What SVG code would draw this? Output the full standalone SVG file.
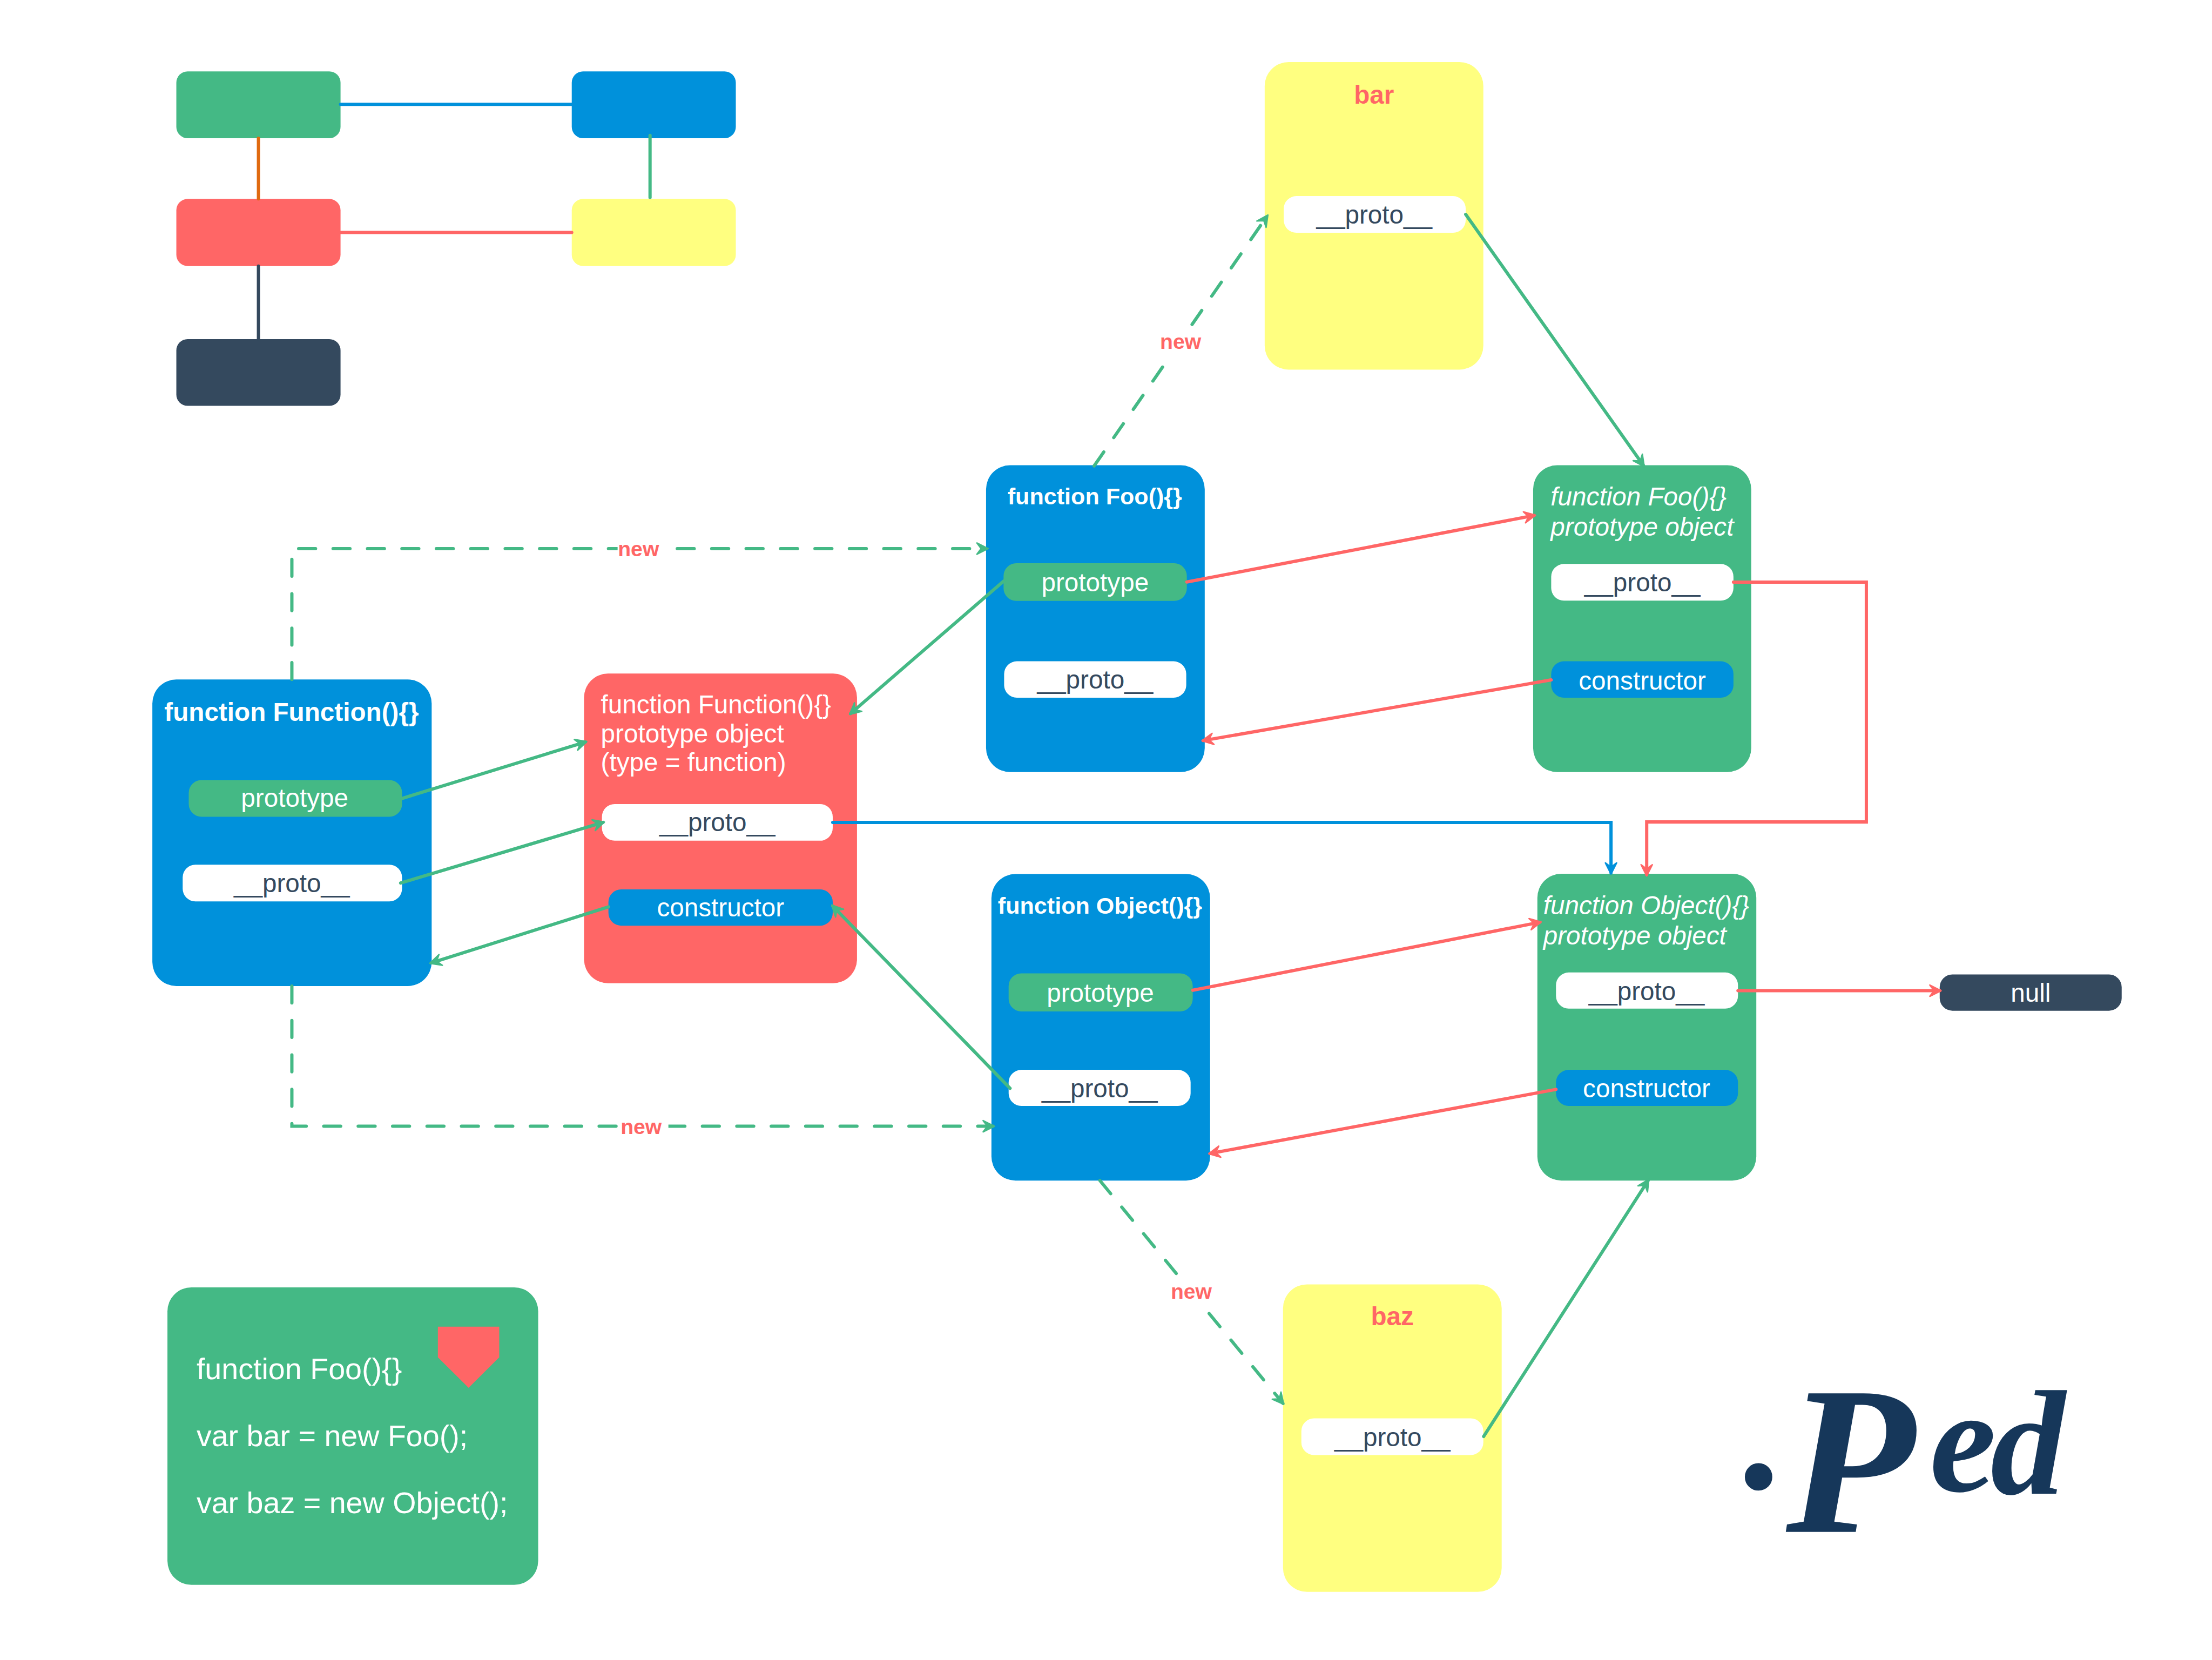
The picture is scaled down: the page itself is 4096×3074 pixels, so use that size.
<svg xmlns="http://www.w3.org/2000/svg" width="4096" height="3074" viewBox="0 0 4096 3074">
<style>
text{font-family:"Liberation Sans",Arial,sans-serif;font-size:18.25px;fill:#fff}
.m{text-anchor:middle}
.d{fill:#34495e}
.b{font-weight:bold}
.t{font-weight:bold;font-size:16.5px}
.i{font-style:italic}
.r{fill:#ff6666}
.n{font-weight:bold;font-size:15px;fill:#ff6666;text-anchor:middle}
.c{font-size:21.3px}
.lg{fill:#44b985}.lb{fill:#0091db}.lr{fill:#ff6666}.ly{fill:#ffff80}.ld{fill:#34495e}.lw{fill:#fff}
.big{rx:17px;ry:17px}
.pill{rx:9px;ry:9px}
.leg{rx:8px;ry:8px}
.l{fill:none;stroke-width:2.3;stroke-linecap:round;stroke-linejoin:miter}
.sg{stroke:#44b985}.sr{stroke:#ff6666}.sb{stroke:#0091db}.so{stroke:#e06a10}.sd{stroke:#34495e}
.dash{stroke-dasharray:12 12.4}
.ag{marker-end:url(#ag)}.ar{marker-end:url(#ar)}.ab{marker-end:url(#ab)}
text.logo{font-family:"Liberation Serif",serif;font-weight:bold;font-style:italic;fill:#16375a}
.l0{font-size:120px}.l1{font-size:150px}.l2{font-size:106px}
</style>
<defs>
<marker id="ag" markerUnits="userSpaceOnUse" markerWidth="14" markerHeight="14" refX="7" refY="5" orient="auto" overflow="visible"><path d="M0,1 L8,5 L0,9 L3,5 Z" fill="#44b985" stroke="#44b985" stroke-width="1" stroke-linejoin="round"/></marker>
<marker id="ar" markerUnits="userSpaceOnUse" markerWidth="14" markerHeight="14" refX="7" refY="5" orient="auto" overflow="visible"><path d="M0,1 L8,5 L0,9 L3,5 Z" fill="#ff6666" stroke="#ff6666" stroke-width="1" stroke-linejoin="round"/></marker>
<marker id="ab" markerUnits="userSpaceOnUse" markerWidth="14" markerHeight="14" refX="7" refY="5" orient="auto" overflow="visible"><path d="M0,1 L8,5 L0,9 L3,5 Z" fill="#0091db" stroke="#0091db" stroke-width="1" stroke-linejoin="round"/></marker>
</defs>
<rect width="4096" height="3074" fill="#fff"/>
<g transform="scale(2.6122)">
<g id="legend-green"><rect class="lg leg" x="125" y="50.6" width="116.4" height="47.4"/></g>
<g id="legend-blue"><rect class="lb leg" x="405.3" y="50.6" width="116.3" height="47.4"/></g>
<g id="legend-red"><rect class="lr leg" x="125" y="141" width="116.4" height="47.6"/></g>
<g id="legend-yellow"><rect class="ly leg" x="405.3" y="141" width="116.3" height="47.6"/></g>
<g id="legend-dark"><rect class="ld leg" x="125" y="240.4" width="116.4" height="47.3"/></g>

<g id="bar">
<rect class="ly big" x="896.5" y="44" width="155" height="218"/>
<text class="r b m" x="974" y="73.5">bar</text>
<rect class="lw pill" x="910" y="139" width="129" height="26"/>
<text class="d m" x="974.2" y="158.5">__proto__</text>
</g>
<g id="baz">
<rect class="ly big" x="909.5" y="910.5" width="155" height="218"/>
<text class="r b m" x="987" y="939.5">baz</text>
<rect class="lw pill" x="922.5" y="1005.5" width="129" height="26"/>
<text class="d m" x="987" y="1025">__proto__</text>
</g>
<g id="function-function">
<rect class="lb big" x="108" y="481.7" width="198" height="217.3"/>
<text class="b m" x="206.7" y="511.1">function Function(){}</text>
<rect class="lg pill" x="133.8" y="553" width="151.2" height="26"/>
<text class="m" x="208.9" y="572">prototype</text>
<rect class="lw pill" x="129.5" y="613" width="155.5" height="26"/>
<text class="d m" x="206.8" y="632.4">__proto__</text>
</g>
<g id="function-prototype">
<rect class="lr big" x="414" y="477.5" width="193.5" height="219.5"/>
<text x="425.9" y="505.7">function Function(){}</text>
<text x="425.9" y="526.2">prototype object</text>
<text x="425.9" y="546.7">(type = function)</text>
<rect class="lw pill" x="426.7" y="570" width="163.6" height="26"/>
<text class="d m" x="508.5" y="589.2">__proto__</text>
<rect class="lb pill" x="431.3" y="630.5" width="159" height="25.7"/>
<text class="m" x="510.8" y="649.5">constructor</text>
</g>
<g id="foo">
<rect class="lb big" x="699" y="329.8" width="155" height="217.5"/>
<text class="t m" x="776.1" y="357.7">function Foo(){}</text>
<rect class="lg pill" x="711.4" y="399.3" width="129.9" height="26.7"/>
<text class="m" x="776.3" y="419.3">prototype</text>
<rect class="lw pill" x="711.8" y="468.8" width="129.1" height="25.8"/>
<text class="d m" x="776.3" y="488.2">__proto__</text>
</g>
<g id="foo-prototype">
<rect class="lg big" x="1086.8" y="329.8" width="154.6" height="217.5"/>
<text class="i" x="1099.2" y="358.5">function Foo(){}</text>
<text class="i" x="1099.2" y="379.7">prototype object</text>
<rect class="lw pill" x="1099.6" y="399.8" width="129.2" height="26"/>
<text class="d m" x="1164.2" y="419.3">__proto__</text>
<rect class="lb pill" x="1099.6" y="468.8" width="129.2" height="25.8"/>
<text class="m" x="1164.2" y="488.7">constructor</text>
</g>
<g id="object">
<rect class="lb big" x="702.8" y="619.6" width="155" height="217.3"/>
<text class="t m" x="779.8" y="647.7">function Object(){}</text>
<rect class="lg pill" x="715" y="690" width="130.5" height="27"/>
<text class="m" x="780" y="710">prototype</text>
<rect class="lw pill" x="715" y="758.4" width="129" height="25.6"/>
<text class="d m" x="779.5" y="777.9">__proto__</text>
</g>
<g id="object-prototype">
<rect class="lg big" x="1089.8" y="619.4" width="155.2" height="217.5"/>
<text class="i" x="1094" y="648.3">function Object(){}</text>
<text class="i" x="1094" y="669.5">prototype object</text>
<rect class="lw pill" x="1103" y="689.4" width="129" height="25.6"/>
<text class="d m" x="1167.2" y="708.9">__proto__</text>
<rect class="lb pill" x="1103" y="758.4" width="129" height="25.6"/>
<text class="m" x="1167.2" y="778">constructor</text>
</g>
<g id="null">
<rect class="ld pill" x="1375" y="690.8" width="129" height="25.7"/>
<text class="m" x="1439.5" y="710">null</text>
</g>
<g id="code">
<rect class="lg big" x="118.7" y="912.6" width="262.8" height="210.9"/>
<text class="c" x="139.3" y="977.6">function Foo(){}</text>
<text class="c" x="139.3" y="1025.2">var bar = new Foo();</text>
<text class="c" x="139.3" y="1072.8">var baz = new Object();</text>
<polygon class="lr" points="310.4,940.5 353.9,940.5 353.9,962.2 332.2,983.8 310.4,962.2"/>
</g>
<g id="connectors">
<path class="l sb" d="M241.4,74H405.3"/>
<path class="l so" d="M183.2,98V141"/>
<path class="l sd" d="M183.2,188.6V240.4"/>
<path class="l sr" d="M241.4,164.8H405.3"/>
<path class="l sg" d="M460.8,96V140"/>

<path class="l sg dash ag" d="M775.6,330.3L898.2,153.2"/>
<path class="l sg ag" d="M1039,152L1165,330"/>
<path class="l sr ar" d="M841.3,412.6L1087.5,365.4"/>
<path class="l sr ar" d="M1099.6,482L853,525"/>
<path class="l sr ar" d="M1228.8,412.7H1323V582.7H1167.3V620"/>
<path class="l sb ab" d="M590.3,583H1142V618.7"/>
<path class="l sg ag" d="M285,566L415,526"/>
<path class="l sg ag" d="M284,626L427.5,583"/>
<path class="l sg ag" d="M431.3,642.9L305.7,682.6"/>
<path class="l sg ag" d="M711.4,412L603,505.8"/>
<path class="l sg ag" d="M716,771.5L590.3,642.3"/>
<path class="l sr ar" d="M845.5,702L1091.5,653.8"/>
<path class="l sr ar" d="M1103,772.3L857.8,817.7"/>
<path class="l sr ar" d="M1232,702.3H1375"/>
<path class="l sg dash ag" d="M206.9,481.7V388.9H699.5"/>
<path class="l sg dash ag" d="M206.9,699V798.4H703.9"/>
<path class="l sg dash ag" d="M779.7,836.9L909.4,994.8"/>
<path class="l sg ag" d="M1051.7,1018.3L1168.3,836.9"/>

<rect class="lw" x="822" y="233" width="29.4" height="20"/>
<text class="n" x="836.9" y="247.4">new</text>
<rect class="lw" x="437.8" y="380" width="34" height="18"/>
<text class="n" x="452.6" y="394.3">new</text>
<rect class="lw" x="439.8" y="790" width="34" height="18"/>
<text class="n" x="454.5" y="804">new</text>
<rect class="lw" x="829.8" y="906" width="29.4" height="20"/>
<text class="n" x="844.5" y="920.6">new</text>
</g>
<g id="logo">
<text class="logo"><tspan class="l0" x="1236" y="1055">.</tspan><tspan class="l1" x="1266" y="1086">P</tspan><tspan class="l2" x="1368" y="1057">e</tspan><tspan class="l2" x="1411" y="1059">d</tspan></text>
</g>
</g>
</svg>
